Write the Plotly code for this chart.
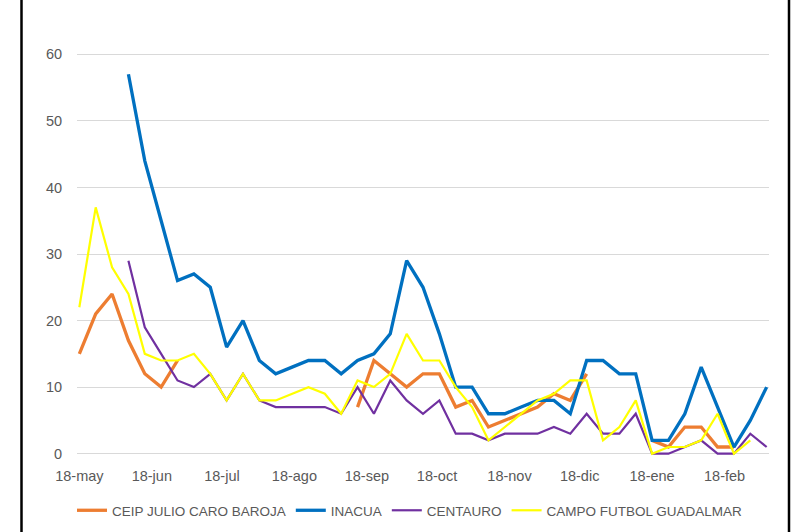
import datetime as dt
import plotly.graph_objects as go

# ---- data (weekly, starting 18 May 2020) ----
start = dt.date(2020, 5, 18)
n_weeks = 43
dates = [start + dt.timedelta(days=7 * i) for i in range(n_weeks)]

N = None
ceip = [15, 21, 24, 17, 12, 10, 14, N, N, N, N, N, N, N, N, N, N,
        7, 14, 12, 10, 12, 12, 7, 8, 4, 5, 6, 7, 9, 8, 12,
        N, N, N, 2, 1, 4, 4, 1, 1, N, N]
inacua = [N, N, N, 57, 44, 35, 26, 27, 25, 16, 20, 14, 12, 13, 14, 14, 12,
          14, 15, 18, 29, 25, 18, 10, 10, 6, 6, 7, 8, 8, 6, 14,
          14, 12, 12, 2, 2, 6, 13, 7, 1, 5, 10]
centauro = [N, N, N, 29, 19, 15, 11, 10, 12, 8, 12, 8, 7, 7, 7, 7, 6,
            10, 6, 11, 8, 6, 8, 3, 3, 2, 3, 3, 3, 4, 3, 6,
            3, 3, 6, 0, 0, 1, 2, 0, 0, 3, 1]
guadalmar = [22, 37, 28, 24, 15, 14, 14, 15, 12, 8, 12, 8, 8, 9, 10, 9, 6,
             11, 10, 12, 18, 14, 14, 10, 7, 2, 4, 6, 8, 9, 11, 11,
             2, 4, 8, 0, 1, 1, 2, 6, 0, 2, N]

series_names = ["CEIP JULIO CARO BAROJA", "INACUA", "CENTAURO", "CAMPO FUTBOL GUADALMAR"]
series_values = [ceip, inacua, centauro, guadalmar]
series_colors = ["#ED7D31", "#0070C0", "#7030A0", "#FFFF00"]
series_widths = [3.3, 3.3, 2.2, 2.2]

tick_dates = [dt.date(2020, 5, 18), dt.date(2020, 6, 18), dt.date(2020, 7, 18),
              dt.date(2020, 8, 18), dt.date(2020, 9, 18), dt.date(2020, 10, 18),
              dt.date(2020, 11, 18), dt.date(2020, 12, 18), dt.date(2021, 1, 18),
              dt.date(2021, 2, 18)]
tick_labels = ["18-may", "18-jun", "18-jul", "18-ago", "18-sep", "18-oct",
               "18-nov", "18-dic", "18-ene", "18-feb"]
y_ticks = [0, 10, 20, 30, 40, 50, 60]

# ---- figure ----
W, H = 805, 532
ML, MR, MT, MB = 77, 36, 51, 75
pw, ph = W - ML - MR, H - MT - MB

fig = go.Figure()
for name, vals, col, lw in zip(series_names, series_values, series_colors, series_widths):
    fig.add_trace(go.Scatter(
        x=dates, y=vals, name=name, mode="lines",
        line=dict(color=col, width=lw),
        connectgaps=False,
    ))

def px_to_paper_x(px):
    return (px - ML) / pw

def px_to_paper_y(py):
    return (H - MB - py) / ph

border = dict(color="black", width=2.5)
shapes = [
    dict(type="line", xref="paper", yref="paper",
         x0=px_to_paper_x(21.5), x1=px_to_paper_x(21.5),
         y0=px_to_paper_y(0), y1=px_to_paper_y(H), line=border),
    dict(type="line", xref="paper", yref="paper",
         x0=px_to_paper_x(789), x1=px_to_paper_x(789),
         y0=px_to_paper_y(0), y1=px_to_paper_y(H), line=border),
]

fig.update_layout(
    width=W, height=H,
    margin=dict(l=ML, r=MR, t=MT, b=MB, pad=0, autoexpand=False),
    paper_bgcolor="white", plot_bgcolor="white",
    font=dict(family="Liberation Sans, Arial, sans-serif", color="#595959", size=14),
    shapes=shapes,
    showlegend=True,
    legend=dict(
        orientation="h",
        xref="container", yref="container",
        x=410 / W, xanchor="center",
        y=(H - 510.5) / H, yanchor="middle",
        font=dict(family="Liberation Sans, Arial, sans-serif", size=13.5, color="#595959"),
        itemwidth=30, tracegroupgap=0, bgcolor="rgba(0,0,0,0)",
    ),
    xaxis=dict(
        type="date",
        range=[start - dt.timedelta(days=1), dates[-1] + dt.timedelta(days=1)],
        tickvals=tick_dates, ticktext=tick_labels,
        showgrid=False, zeroline=False, showline=False,
        ticks="outside", ticklen=6, tickcolor="rgba(0,0,0,0)",
        tickfont=dict(size=14.5, color="#595959"),
    ),
    yaxis=dict(
        range=[-0.5, 60.5], tickvals=y_ticks,
        showgrid=True, gridcolor="#D9D9D9", gridwidth=1,
        zeroline=False, showline=False,
        ticks="outside", ticklen=11, tickcolor="rgba(0,0,0,0)",
        tickfont=dict(size=14.5, color="#595959"),
    ),
)

fig.write_html(
    "out.html",
    config={"displayModeBar": False},
    post_script="document.body.style.margin='0';document.body.style.overflow='hidden';",
)
